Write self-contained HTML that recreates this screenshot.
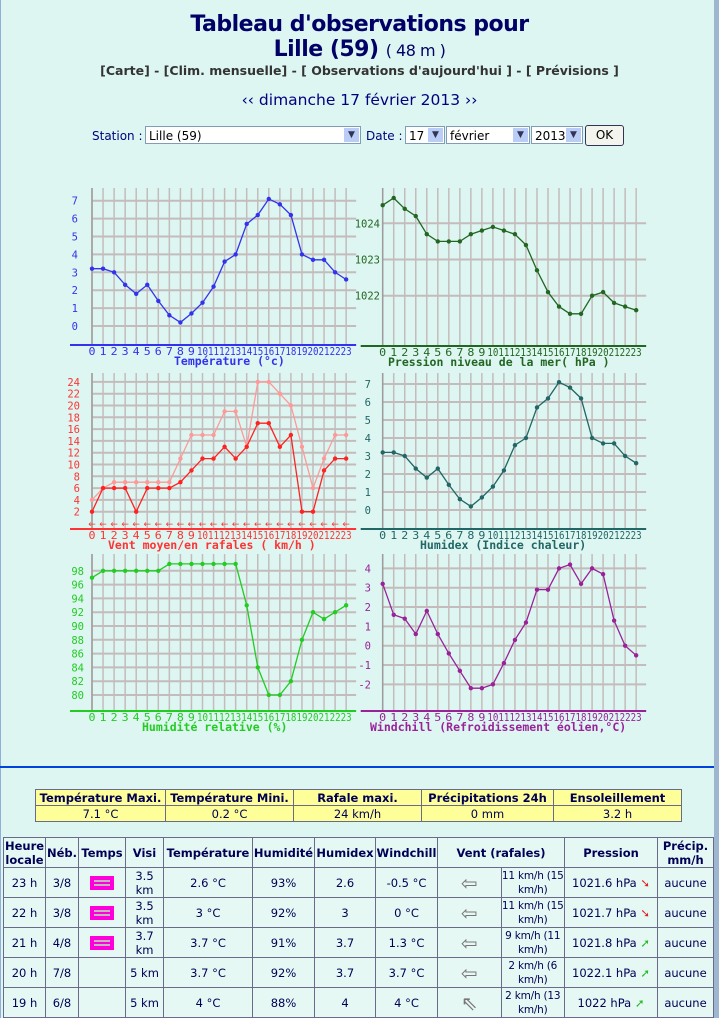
<!DOCTYPE html>
<html><head><meta charset="utf-8">
<style>
body{margin:0;width:719px;height:1018px;background:#ddf6f1;position:relative;overflow:hidden;font-family:"DejaVu Sans","Liberation Sans",sans-serif;color:#000066}
.a{position:absolute}
.c{text-align:center;width:719px;left:0}
table{border-collapse:collapse;position:absolute;table-layout:fixed}
td{border:1px solid #6a6a8a;text-align:center;font-size:12px;padding:0;color:#000055;white-space:nowrap;overflow:hidden}
.sum td{background:#ffff99;height:15px;font-size:11.5px}
.sum tr:first-child td{font-weight:bold}
.main td{background:#e6f8f4;height:29px;line-height:14px;font-size:11.5px}
.main td.w{font-size:10.5px;letter-spacing:-0.2px}
.main tr:first-child td{font-weight:bold}
.mag{display:inline-block;width:24px;height:14px;background:#ff00dd;vertical-align:middle;background-image:repeating-linear-gradient(#ff00dd 0 2px,#bbb 2px 4px);background-size:16px 10px;background-position:4px 2px;background-repeat:no-repeat}
.sel{position:absolute;height:18px;background:#fff;border:1px solid #7f9db9;font-size:12px;line-height:18px;padding-left:3px;box-sizing:border-box;color:#000}
.sel b{position:absolute;right:1px;top:1px;width:15px;height:14px;background:#b9cdf7;color:#335;font-size:9px;text-align:center;line-height:14px}
</style></head><body>
<div style="position:absolute;left:0;top:0;width:1px;height:1018px;background:#8fb0d8"></div>
<div style="position:absolute;right:0;top:0;width:5px;height:1018px;background:#9fb6d0"></div>
<div class="a c" style="top:12px;font-size:22px;font-weight:bold;color:#000066;font-family:'DejaVu Sans',sans-serif;letter-spacing:-0.5px">Tableau d'observations pour</div>
<div class="a c" style="top:37px;font-size:22px;font-weight:bold;color:#000066;font-family:'DejaVu Sans',sans-serif;letter-spacing:-0.5px">Lille (59) <span style="font-weight:normal;font-size:16px">( 48 m )</span></div>
<div class="a c" style="top:63px;font-size:12.5px;font-weight:bold;color:#333">[Carte] - [Clim. mensuelle] - [ Observations d'aujourd'hui ] - [ Prévisions ]</div>
<div class="a c" style="top:91px;font-size:15.5px;color:#000080">‹‹ dimanche 17 février 2013 ››</div>
<div class="a" style="left:92px;top:129px;font-size:12px;color:#000080">Station :</div>
<div class="sel" style="left:145px;top:126px;width:216px">Lille (59)<b>▼</b></div>
<div class="a" style="left:366px;top:129px;font-size:12px;color:#000080">Date :</div>
<div class="sel" style="left:405px;top:126px;width:40px">17<b>▼</b></div>
<div class="sel" style="left:446px;top:126px;width:84px">février<b>▼</b></div>
<div class="sel" style="left:531px;top:126px;width:52px">2013<b>▼</b></div>
<div class="a" style="left:585px;top:125px;width:37px;height:19px;border:1px solid #335;border-radius:3px;background:#f4f4ee;font-size:12px;text-align:center;line-height:19px;color:#000">OK</div>

<svg id="ch" class="a" style="left:0;top:0" width="719" height="760" xmlns="http://www.w3.org/2000/svg"></svg>

<div style="position:absolute;left:0;top:766px;width:714px;height:2px;background:#0044dd"></div>

<table class="sum" style="left:35px;top:789px;width:647px">
<tr><td style="width:129px">Température Maxi.</td><td style="width:127px">Température Mini.</td><td style="width:127px">Rafale maxi.</td><td style="width:131px">Précipitations 24h</td><td>Ensoleillement</td></tr>
<tr><td>7.1 °C</td><td>0.2 °C</td><td>24 km/h</td><td>0 mm</td><td>3.2 h</td></tr>
</table>

<table class="main" style="left:3px;top:837px;width:711px">
<tr><td style="width:41px">Heure<br>locale</td><td style="width:32px">Néb.</td><td style="width:46px">Temps</td><td style="width:37px">Visi</td><td style="width:88px">Température</td><td style="width:61px">Humidité</td><td style="width:60px">Humidex</td><td style="width:61px">Windchill</td><td colspan="2" style="width:126px">Vent (rafales)</td><td style="width:92px">Pression</td><td>Précip.<br>mm/h</td></tr>
<tr><td>23 h</td><td>3/8</td><td><span class="mag"></span></td><td>3.5<br>km</td><td>2.6 °C</td><td>93%</td><td>2.6</td><td>-0.5 °C</td><td style="width:35px;font-size:20px;color:#777">⇦</td><td class="w">11 km/h (15<br>km/h)</td><td>1021.6 hPa <span style="color:#d22">➘</span></td><td>aucune</td></tr>
<tr><td>22 h</td><td>3/8</td><td><span class="mag"></span></td><td>3.5<br>km</td><td>3 °C</td><td>92%</td><td>3</td><td>0 °C</td><td style="font-size:20px;color:#777">⇦</td><td class="w">11 km/h (15<br>km/h)</td><td>1021.7 hPa <span style="color:#d22">➘</span></td><td>aucune</td></tr>
<tr><td>21 h</td><td>4/8</td><td><span class="mag"></span></td><td>3.7<br>km</td><td>3.7 °C</td><td>91%</td><td>3.7</td><td>1.3 °C</td><td style="font-size:20px;color:#777">⇦</td><td class="w">9 km/h (11<br>km/h)</td><td>1021.8 hPa <span style="color:#2b2">➚</span></td><td>aucune</td></tr>
<tr><td>20 h</td><td>7/8</td><td></td><td>5 km</td><td>3.7 °C</td><td>92%</td><td>3.7</td><td>3.7 °C</td><td style="font-size:20px;color:#777">⇦</td><td class="w">2 km/h (6<br>km/h)</td><td>1022.1 hPa <span style="color:#2b2">➚</span></td><td>aucune</td></tr>
<tr><td>19 h</td><td>6/8</td><td></td><td>5 km</td><td>4 °C</td><td>88%</td><td>4</td><td>4 °C</td><td style="font-size:20px;color:#777">⇖</td><td class="w">2 km/h (13<br>km/h)</td><td>1022 hPa <span style="color:#2b2">➚</span></td><td>aucune</td></tr>
</table>

<script>
var svg=document.getElementById('ch'),h='';
function chart(o){
 var x0=o.x0,st=o.st,col=o.col;
 o.ticks.forEach(function(t){var y=o.y(t);
  h+='<line x1="'+x0+'" x2="'+(x0+23*st+10)+'" y1="'+y+'" y2="'+y+'" stroke="#c4bcbc" stroke-width="2"/>';
  h+='<text x="'+o.lx+'" y="'+(y+4)+'" font-size="10.5" fill="'+col+'" text-anchor="end" font-family="DejaVu Sans Mono,monospace">'+t+'</text>';});
 for(var i=0;i<24;i++){var x=x0+i*st;
  h+='<line x1="'+x+'" x2="'+x+'" y1="'+o.top+'" y2="'+o.ax+'" stroke="#c4bcbc" stroke-width="1.5"/>';
  h+='<text x="'+x+'" y="'+(o.ax+10)+'" font-size="11" fill="'+col+'" text-anchor="middle" font-family="DejaVu Sans Mono,monospace" textLength="'+(i>9?11:7)+'" lengthAdjust="spacingAndGlyphs">'+i+'</text>';}
 h+='<line x1="'+x0+'" x2="'+x0+'" y1="'+o.top+'" y2="'+o.ax+'" stroke="#a09a9a" stroke-width="1.5"/>';
 h+='<line x1="'+(x0-22)+'" x2="'+(x0+23*st+10)+'" y1="'+o.ax+'" y2="'+o.ax+'" stroke="'+col+'" stroke-width="2"/>';
 h+='<text x="'+o.tx+'" y="'+(o.ax+20)+'" font-size="11.5" font-weight="bold" fill="'+col+'" font-family="DejaVu Sans Mono,monospace">'+o.title+'</text>';
 o.series.forEach(function(s){var p=s.d.map(function(v,i){return (x0+i*st).toFixed(1)+','+o.y(v).toFixed(1)}).join(' ');
  h+='<polyline points="'+p+'" fill="none" stroke="'+s.c+'" stroke-width="1.3"/>';
  s.d.forEach(function(v,i){h+='<circle cx="'+(x0+i*st)+'" cy="'+o.y(v)+'" r="2.2" fill="'+s.c+'"/>';});});
 if(o.extra)o.extra();
}
var T=[3.2,3.2,3.0,2.3,1.8,2.3,1.4,0.6,0.2,0.7,1.3,2.2,3.6,4.0,5.7,6.2,7.1,6.8,6.2,4.0,3.7,3.7,3.0,2.6];
chart({x0:92,st:11.05,col:'#3333ee',top:188,ax:345,lx:78,tx:174,title:'Température (°c)',ticks:[0,1,2,3,4,5,6,7],y:function(v){return 326-v*17.9},series:[{d:T,c:'#3333ee'}]});
chart({x0:382.7,st:11.02,col:'#226622',top:188,ax:346,lx:380,tx:388,title:'Pression niveau de la mer( hPa )',ticks:[1022,1023,1024],y:function(v){return 295.7-(v-1022)*36.2},series:[{d:[1024.5,1024.7,1024.4,1024.2,1023.7,1023.5,1023.5,1023.5,1023.7,1023.8,1023.9,1023.8,1023.7,1023.4,1022.7,1022.1,1021.7,1021.5,1021.5,1022.0,1022.1,1021.8,1021.7,1021.6],c:'#226622'}]});
chart({x0:92,st:11.05,col:'#ff3333',top:373,ax:529,lx:80,tx:108,title:'Vent moyen/en rafales ( km/h )',ticks:[2,4,6,8,10,12,14,16,18,20,22,24],y:function(v){return 523.5-v*5.9},
 series:[{d:[4,6,7,7,7,7,7,7,11,15,15,15,19,19,13,24,24,22,20,13,6,11,15,15],c:'#ff9999'},{d:[2,6,6,6,2,6,6,6,7,9,11,11,13,11,13,17,17,13,15,2,2,9,11,11],c:'#ff2222'}],
 extra:function(){for(var i=0;i<24;i++)h+='<text x="'+(92+i*11.05)+'" y="527" font-size="9" fill="#ff3333" text-anchor="middle">←</text>';}});
chart({x0:382.7,st:11.02,col:'#226666',top:373,ax:529,lx:371,tx:420,title:'Humidex (Indice chaleur)',ticks:[0,1,2,3,4,5,6,7],y:function(v){return 510-v*18},series:[{d:T,c:'#226666'}]});
chart({x0:92,st:11.05,col:'#22cc22',top:554,ax:711,lx:84,tx:142,title:'Humidité relative (%)',ticks:[80,82,84,86,88,90,92,94,96,98],y:function(v){return 695-(v-80)*6.9},series:[{d:[97,98,98,98,98,98,98,99,99,99,99,99,99,99,93,84,80,80,82,88,92,91,92,93],c:'#22cc22'}]});
chart({x0:382.7,st:11.02,col:'#992299',top:554,ax:711,lx:371,tx:370,title:'Windchill (Refroidissement éolien,°C)',ticks:[-2,-1,0,1,2,3,4],y:function(v){return 645.7-v*19.33},series:[{d:[3.2,1.6,1.4,0.6,1.8,0.6,-0.4,-1.3,-2.2,-2.2,-2.0,-0.9,0.3,1.2,2.9,2.9,4.0,4.2,3.2,4.0,3.7,1.3,0.0,-0.5],c:'#992299'}]});
svg.innerHTML=h;
</script>
</body></html>
